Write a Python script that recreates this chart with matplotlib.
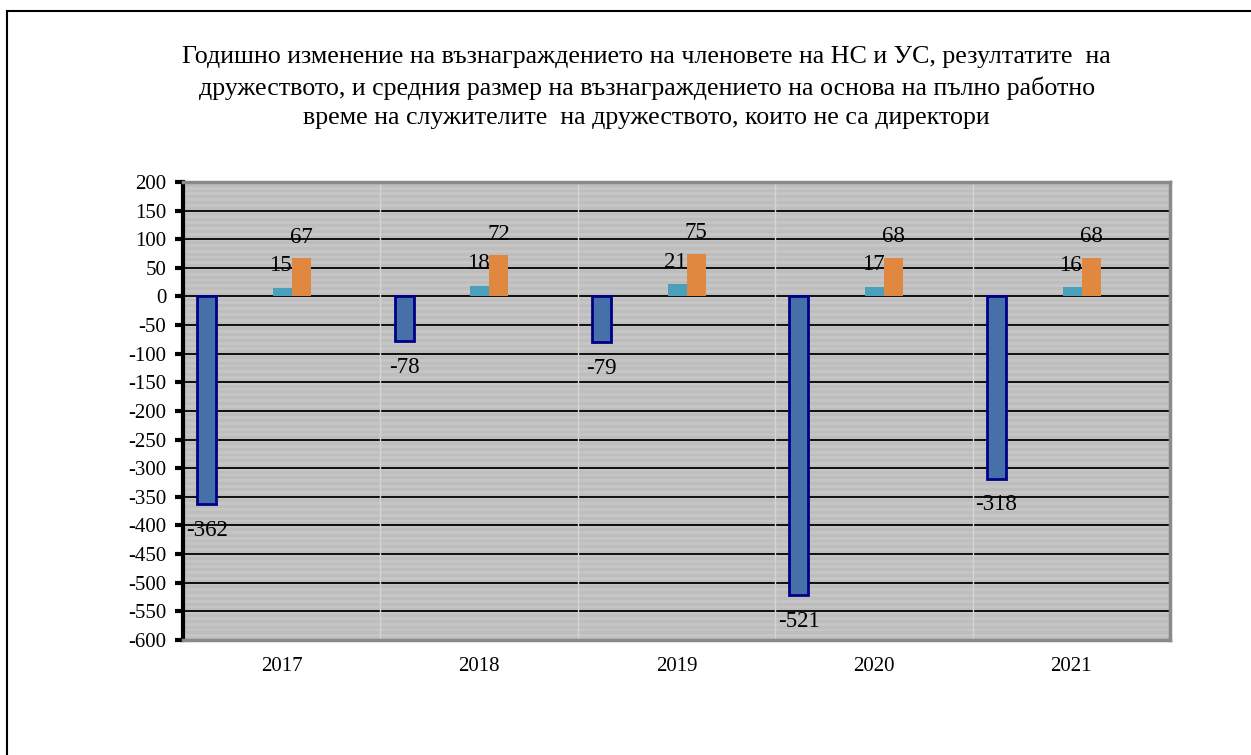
import numpy as np
import matplotlib
matplotlib.use("Agg")
import matplotlib.pyplot as plt
from matplotlib.lines import Line2D

plt.rcParams['font.family'] = ['Liberation Serif', 'DejaVu Serif']
plt.rcParams['axes.unicode_minus'] = False

years = ['2017', '2018', '2019', '2020', '2021']
board_pay = [-362, -78, -79, -521, -318]
results = [15, 18, 21, 17, 16]
staff_pay = [67, 72, 75, 68, 68]

title = ("Годишно изменение на възнаграждението на членовете на НС и УС, резултатите  на\n"
         "дружеството, и средния размер на възнаграждението на основа на пълно работно\n"
         "време на служителите  на дружеството, които не са директори")

fig = plt.figure(figsize=(12.51, 7.55), dpi=100)
ax = fig.add_axes([0.1463, 0.1523, 0.789, 0.6067])

# striped grey background
stripes = np.tile(np.array([[0.77], [0.74]]), (80, 1))
ax.imshow(stripes, cmap='gray', vmin=0, vmax=1, aspect='auto',
          extent=[0, 1, 0, 1], transform=ax.transAxes, zorder=0,
          interpolation='nearest')

x = np.arange(len(years))
w = 0.096
ax.bar(x + 0.12, board_pay, w, color='#4670a8', edgecolor='#000088',
       linewidth=2, zorder=3)
ax.bar(x + 0.504, results, w, color='#4aa0ba', linewidth=0, zorder=3)
ax.bar(x + 0.60, staff_pay, w, color='#e0883f', linewidth=0, zorder=3)

for i in range(len(years)):
    ax.annotate(str(board_pay[i]), (x[i] + 0.12, board_pay[i]),
                xytext=(0, -19), textcoords='offset points',
                ha='center', va='center', fontsize=16.5, zorder=4)
    ax.annotate(str(results[i]), (x[i] + 0.495, results[i]),
                xytext=(0, 16), textcoords='offset points',
                ha='center', va='center', fontsize=16.5, zorder=4)
    ax.annotate(str(staff_pay[i]), (x[i] + 0.60, staff_pay[i]),
                xytext=(0, 15), textcoords='offset points',
                ha='center', va='center', fontsize=16.5, zorder=4)

ax.set_xlim(0, len(years))
ax.set_ylim(-600, 200)
ax.set_yticks(np.arange(-600, 201, 50))
ax.yaxis.grid(True, color='black', linewidth=1.3, zorder=1)
ax.set_axisbelow(True)
ax.vlines(np.arange(1, len(years)), -600, 200, color='#d4d4d4',
          linewidth=1, zorder=1)

ax.set_xticks(x + 0.5)
ax.set_xticklabels(years, fontsize=15)
ax.tick_params(axis='x', length=0, pad=12)
ax.tick_params(axis='y', direction='out', length=6, width=3,
               labelsize=15, pad=6)

ax.spines['left'].set_color('black')
ax.spines['left'].set_linewidth(3)
for s in ['top', 'right', 'bottom']:
    ax.spines[s].set_color('#8a8a8a')
    ax.spines[s].set_linewidth(2.5)

fig.text(0.517, 0.884, title, ha='center', va='center', fontsize=18.7,
         linespacing=1.46)

# outer frame
fig.add_artist(Line2D([0.0056, 1.0], [0.9854, 0.9854], color='black',
                      linewidth=1.5, transform=fig.transFigure))
fig.add_artist(Line2D([0.0056, 0.0056], [0.0, 0.9854], color='black',
                      linewidth=1.5, transform=fig.transFigure))

fig.savefig('out.png', dpi=100)
